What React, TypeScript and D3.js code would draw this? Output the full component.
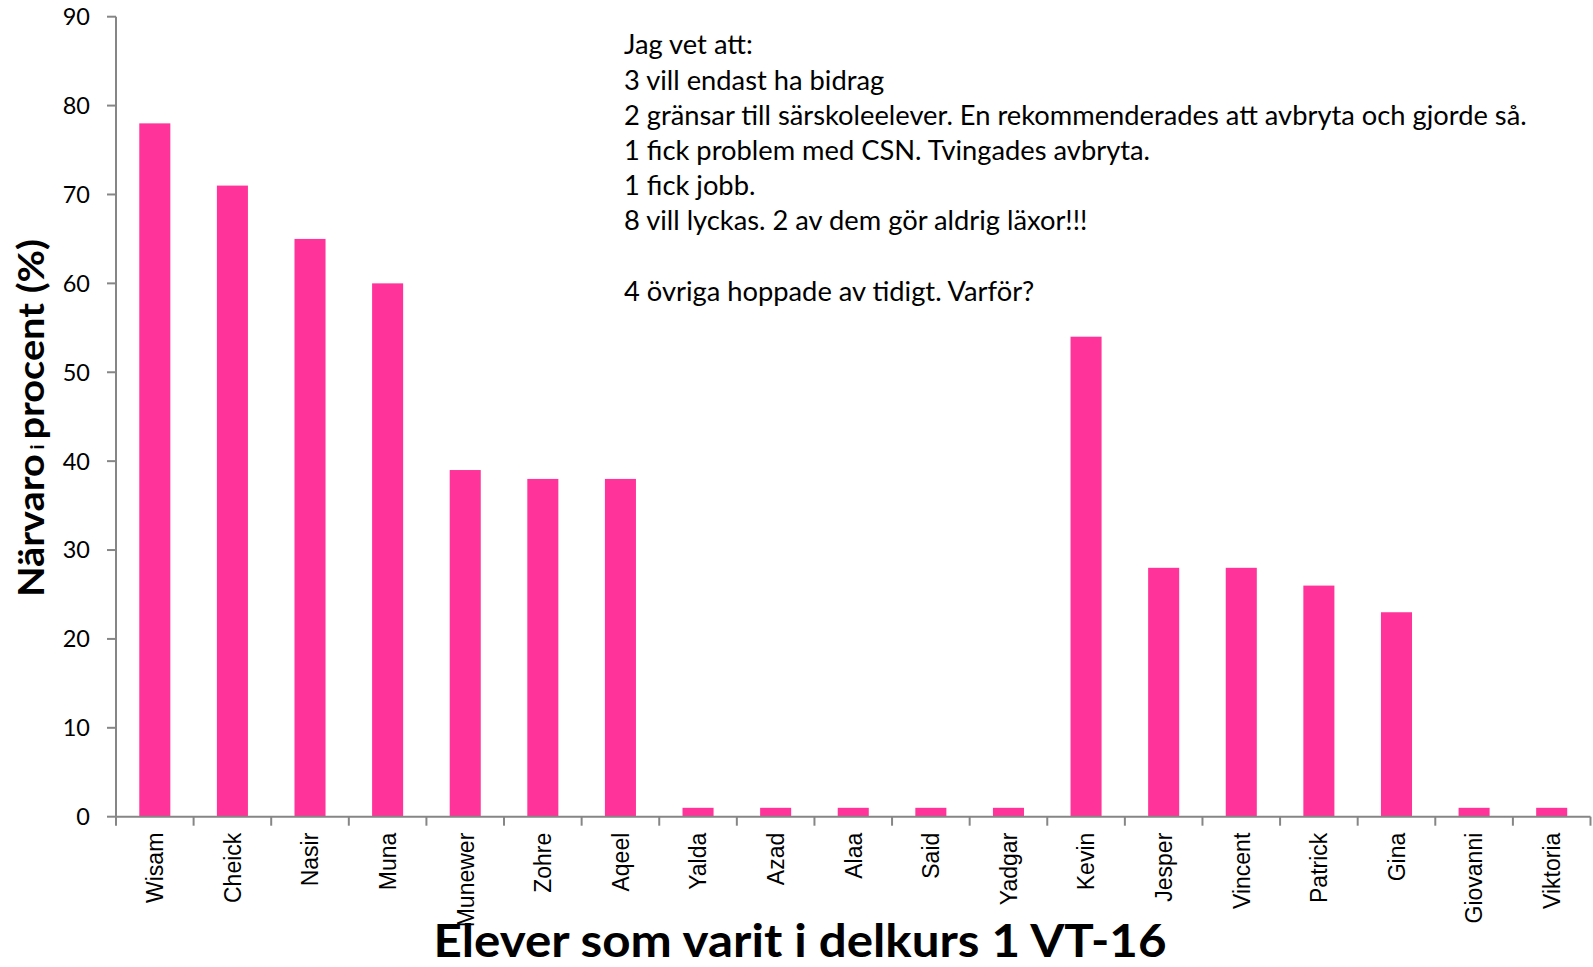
import * as d3 from "d3";

const names = [
  "Wisam", "Cheick", "Nasir", "Muna", "Munewer", "Zohre", "Aqeel", "Yalda", "Azad", "Alaa",
  "Said", "Yadgar", "Kevin", "Jesper", "Vincent", "Patrick", "Gina", "Giovanni", "Viktoria",
];
const attendance = [78, 71, 65, 60, 39, 38, 38, 1, 1, 1, 1, 1, 54, 28, 28, 26, 23, 1, 1];
const yTicks = [0, 10, 20, 30, 40, 50, 60, 70, 80, 90];
const notes = [
  "Jag vet att:",
  "3 vill endast ha bidrag",
  "2 gränsar till särskoleelever. En rekommenderades att avbryta och gjorde så.",
  "1 fick problem med CSN. Tvingades avbryta.",
  "1 fick jobb.",
  "8 vill lyckas. 2 av dem gör aldrig läxor!!!",
  "",
  "4 övriga hoppade av tidigt. Varför?",
];

const W = 1593;
const H = 967;
const left = 116;
const right = 1590.5;
const top = 16.7;
const bottom = 816.7;
const axisColor = "#868686";
const barColor = "#FF3399";
const font = "Lato, 'Open Sans', sans-serif";

export default function App() {
  const x = d3.scaleBand<string>().domain(names).range([left, right]).paddingInner(0.6).paddingOuter(0.3);
  const xb = d3.scaleBand<string>().domain(names).range([left, right]);
  const y = d3.scaleLinear().domain([0, 90]).range([bottom, top]);

  return (
    <svg
      width={W}
      height={H}
      viewBox={`0 0 ${W} ${H}`}
      style={{ position: "absolute", left: 0, top: 0, background: "#fff" }}
    >
      {/* bars */}
      {names.map((n, i) => (
        <rect
          key={n}
          x={x(n)}
          y={y(attendance[i])}
          width={x.bandwidth()}
          height={bottom - y(attendance[i])}
          fill={barColor}
        />
      ))}

      {/* y axis */}
      <line x1={left} x2={left} y1={top} y2={bottom} stroke={axisColor} strokeWidth={2} />
      {yTicks.map((t) => (
        <g key={t}>
          <line x1={left - 9} x2={left} y1={y(t)} y2={y(t)} stroke={axisColor} strokeWidth={2} />
          <text x={90} y={y(t)} dy="0.36em" textAnchor="end" fontFamily={font} fontSize={23.5} fill="#000">
            {t}
          </text>
        </g>
      ))}

      {/* x axis */}
      <line x1={left} x2={right} y1={bottom} y2={bottom} stroke={axisColor} strokeWidth={2} />
      {[...names.map((n) => xb(n)!), right].map((px, i) => (
        <line key={i} x1={px} x2={px} y1={bottom} y2={bottom + 9} stroke={axisColor} strokeWidth={2} />
      ))}
      {names.map((n) => (
        <text
          key={n}
          transform={`translate(${xb(n)! + xb.bandwidth() / 2},${bottom + 16}) rotate(-90)`}
          dy="0.36em"
          textAnchor="end"
          fontFamily="'Liberation Sans', Arial, sans-serif"
          fontSize={23}
          fill="#000"
        >
          {n}
        </text>
      ))}

      {/* axis titles */}
      <text
        transform={`translate(44,418) rotate(-90)`}
        textAnchor="middle"
        fontFamily={font}
        fontWeight="bold"
        fontSize={36}
        fill="#000"
        textLength={358}
        lengthAdjust="spacingAndGlyphs"
      >
        Närvaro<tspan fontSize={18}> i </tspan>procent (%)
      </text>
      <text
        x={800}
        y={957}
        textAnchor="middle"
        fontFamily={font}
        fontWeight="bold"
        fontSize={46}
        fill="#000"
        textLength={733}
        lengthAdjust="spacingAndGlyphs"
      >
        Elever som varit i delkurs 1 VT-16
      </text>

      {/* annotation */}
      <text fontFamily={font} fontSize={27.3} fill="#000">
        {notes.map((l, i) => (
          <tspan key={i} x={624} y={54.3 + i * 35.2}>
            {l}
          </tspan>
        ))}
      </text>
    </svg>
  );
}
